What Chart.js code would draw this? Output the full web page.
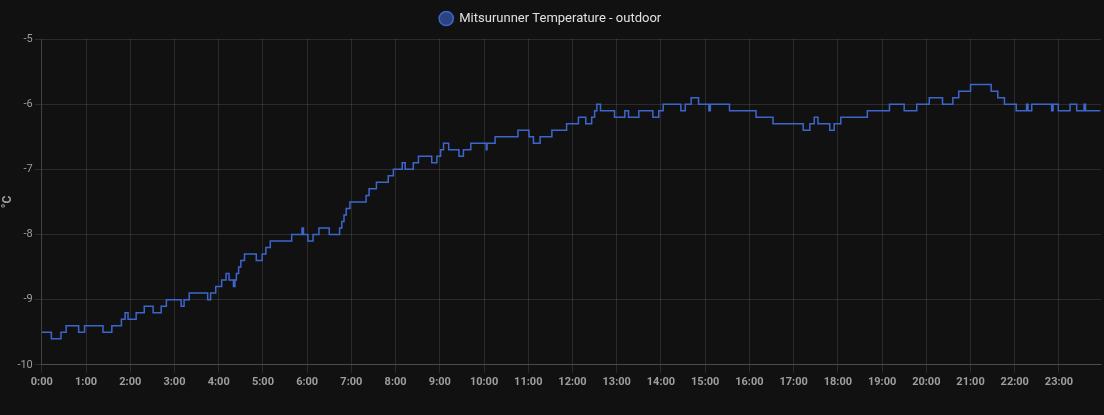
<!DOCTYPE html>
<html>
<head>
<meta charset="utf-8">
<script src="https://cdn.jsdelivr.net/npm/chart.js@4"></script>
<style>
  html, body { margin: 0; padding: 0; background: #111111; }
  #wrap { width: 1104px; height: 415px; }
</style>
</head>
<body>
<div id="wrap"><canvas id="chartTemp"></canvas></div>
<script>
/* Outdoor temperature, one day, stepped history */

// minutes since midnight at which a new reading starts
const minutes = [
  0, 13, 26, 33, 50, 58, 83, 95, 108, 113, 117, 128, 139, 151, 162, 169, 189, 193, 200, 225,
  229, 236, 244, 250, 254, 260, 262, 264, 267, 270, 275, 291, 299, 304, 310, 339, 353, 355, 361, 368,
  376, 390, 404, 407, 410, 413, 418, 440, 444, 454, 470, 477, 489, 493, 504, 511, 529, 536, 541, 545,
  552, 566, 572, 582, 603, 604, 615, 646, 661, 667, 676, 692, 712, 728, 738, 746, 750, 753, 758, 777,
  791, 796, 810, 829, 837, 843, 867, 873, 881, 891, 905, 907, 933, 969, 992, 1033, 1042, 1048, 1053, 1069,
  1075, 1084, 1120, 1150, 1170, 1187, 1204, 1222, 1236, 1244, 1260, 1288, 1297, 1306, 1322, 1336, 1338, 1343, 1370, 1372,
  1379, 1395, 1404, 1414, 1416, 1436,
];

const temps = [
  -9.5, -9.6, -9.5, -9.4, -9.5, -9.4, -9.5, -9.4, -9.3, -9.2, -9.3, -9.2, -9.1, -9.2, -9.1, -9.0, -9.1, -9.0, -8.9, -9.0,
  -8.9, -8.8, -8.7, -8.6, -8.7, -8.8, -8.7, -8.6, -8.5, -8.4, -8.3, -8.4, -8.3, -8.2, -8.1, -8.0, -7.9, -8.0, -8.1, -8.0,
  -7.9, -8.0, -7.9, -7.8, -7.7, -7.6, -7.5, -7.4, -7.3, -7.2, -7.1, -7.0, -6.9, -7.0, -6.9, -6.8, -6.9, -6.8, -6.7, -6.6,
  -6.7, -6.8, -6.7, -6.6, -6.7, -6.6, -6.5, -6.4, -6.5, -6.6, -6.5, -6.4, -6.3, -6.2, -6.3, -6.2, -6.1, -6.0, -6.1, -6.2,
  -6.1, -6.2, -6.1, -6.2, -6.1, -6.0, -6.1, -6.0, -5.9, -6.0, -6.1, -6.0, -6.1, -6.2, -6.3, -6.4, -6.3, -6.2, -6.3, -6.4,
  -6.3, -6.2, -6.1, -6.0, -6.1, -6.0, -5.9, -6.0, -5.9, -5.8, -5.7, -5.8, -5.9, -6.0, -6.1, -6.0, -6.1, -6.0, -6.1, -6.0,
  -6.1, -6.0, -6.1, -6.0, -6.1, -6.1,
];

const hourLabels = [
  '0:00', '1:00', '2:00', '3:00', '4:00', '5:00', '6:00', '7:00', '8:00', '9:00', '10:00', '11:00',
  '12:00', '13:00', '14:00', '15:00', '16:00', '17:00', '18:00', '19:00', '20:00', '21:00', '22:00', '23:00',
];

const yTicks = [-10, -9, -8, -7, -6, -5];

Chart.defaults.font.family = 'Roboto, "Noto Sans", sans-serif';
Chart.defaults.color = '#9e9e9e';

const gridCol = 'rgba(255,255,255,0.11)';

// a little extra room under the legend
const legendGap = {
  id: 'legendGap',
  beforeInit(chart) {
    const fit = chart.legend.fit;
    chart.legend.fit = function () {
      fit.call(this);
      this.height += 4;
    };
  },
};

new Chart(document.getElementById('chartTemp'), {
  type: 'line',
  data: {
    datasets: [{
      label: 'Mitsurunner Temperature - outdoor',
      data: minutes.map((m, i) => ({ x: m, y: temps[i] })),
      borderColor: '#3d66cc',
      backgroundColor: 'rgba(61,102,204,0.6)',
      borderWidth: 1.5,
      stepped: 'before',
      pointRadius: 0,
      fill: false,
    }],
  },
  options: {
    responsive: true,
    maintainAspectRatio: false,
    animation: false,
    layout: { padding: { right: 3, bottom: 23 } },
    plugins: {
      legend: {
        position: 'top',
        labels: {
          usePointStyle: true,
          pointStyle: 'circle',
          boxHeight: 10,
          padding: 12,
          color: '#e1e1e1',
          font: { size: 13 },
        },
      },
      tooltip: { enabled: false },
    },
    scales: {
      x: {
        type: 'linear',
        min: 0,
        max: 1437,
        grid: { color: gridCol, tickLength: 8 },
        border: { color: 'rgba(255,255,255,0.16)' },
        afterBuildTicks: axis => { axis.ticks = hourLabels.map((_, i) => ({ value: i * 60 })); },
        ticks: {
          autoSkip: false,
          maxRotation: 0,
          color: '#9e9e9e',
          font: { size: 11, weight: 'bold' },
          callback: v => hourLabels[Math.round(v / 60)],
        },
      },
      y: {
        min: -10,
        max: -5,
        grid: { color: gridCol, tickLength: 7 },
        border: { color: gridCol },
        afterBuildTicks: axis => { axis.ticks = yTicks.map(v => ({ value: v })); },
        ticks: { color: '#9e9e9e', font: { size: 11 }, padding: 2 },
        title: {
          display: true, text: '°C', color: '#9e9e9e',
          font: { size: 12, weight: 'bold' }, padding: { top: 1, bottom: 0 },
        },
      },
    },
  },
  plugins: [legendGap],
});
</script>
</body>
</html>
